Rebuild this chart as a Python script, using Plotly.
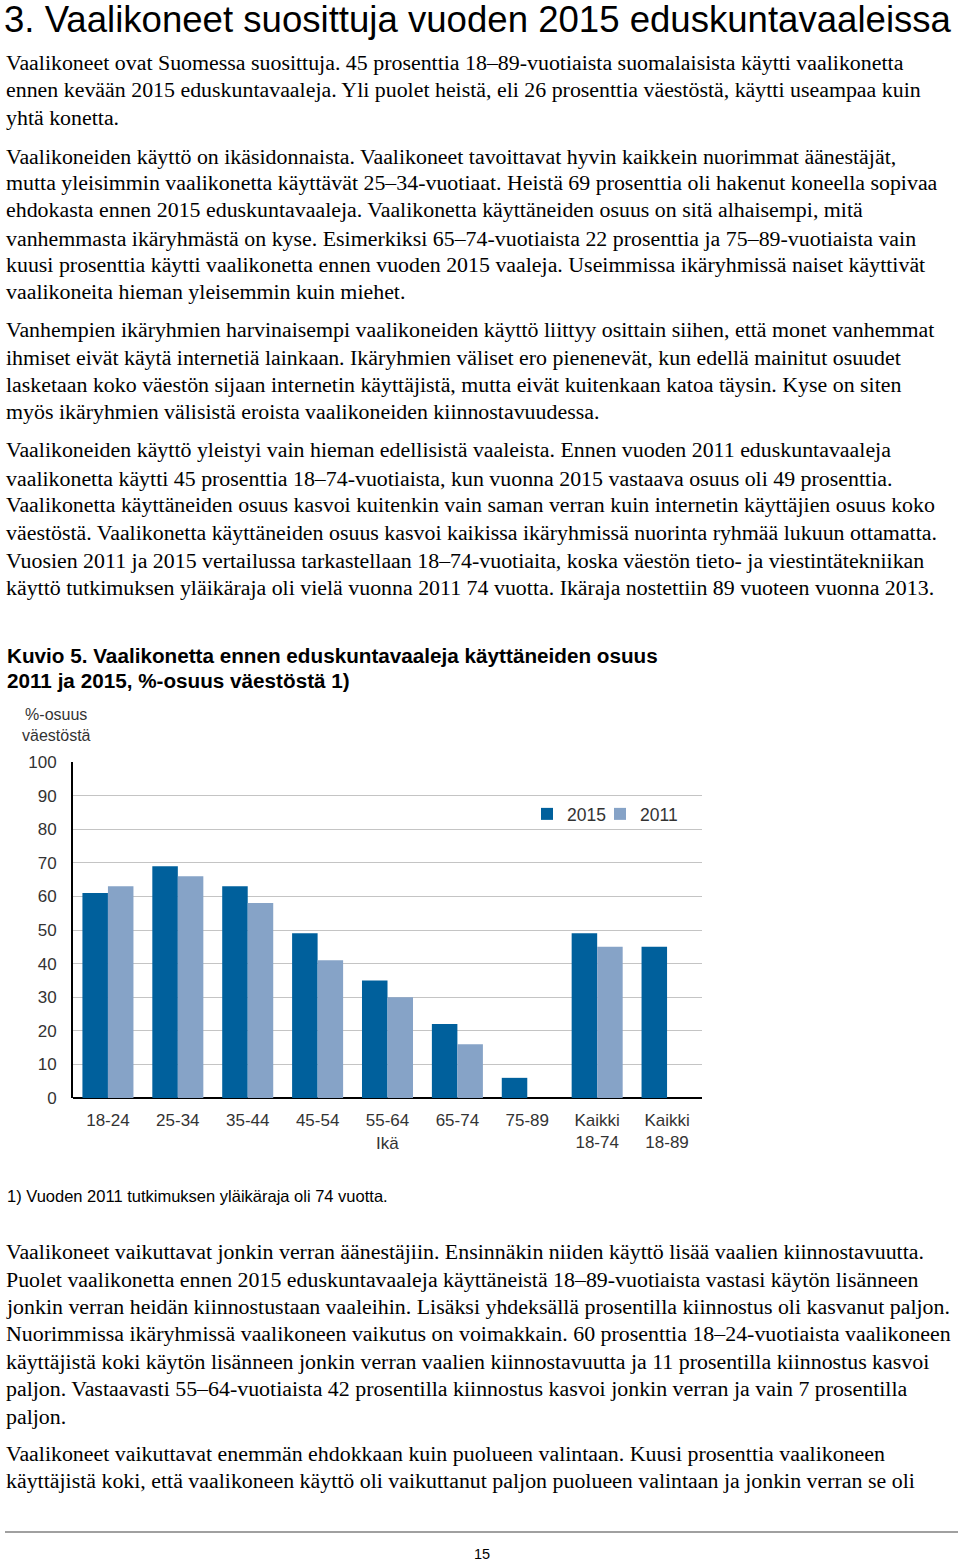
import plotly.graph_objects as go

W, H = 960, 1565

# ---------------- data ----------------
categories = ["18-24", "25-34", "35-44", "45-54", "55-64", "65-74", "75-89",
              "Kaikki<br>18-74", "Kaikki<br>18-89"]
values_2015 = [61, 69, 63, 49, 35, 22, 6, 49, 45]
values_2011 = [63, 66, 58, 41, 30, 16, None, 45, None]
y_ticks = [0, 10, 20, 30, 40, 50, 60, 70, 80, 90, 100]

title_text = "3. Vaalikoneet suosittuja vuoden 2015 eduskuntavaaleissa"

para1 = [
    "Vaalikoneet ovat Suomessa suosittuja. 45 prosenttia 18–89-vuotiaista suomalaisista käytti vaalikonetta",
    "ennen kevään 2015 eduskuntavaaleja. Yli puolet heistä, eli 26 prosenttia väestöstä, käytti useampaa kuin",
    "yhtä konetta.",
]
para2 = [
    "Vaalikoneiden käyttö on ikäsidonnaista. Vaalikoneet tavoittavat hyvin kaikkein nuorimmat äänestäjät,",
    "mutta yleisimmin vaalikonetta käyttävät 25–34-vuotiaat. Heistä 69 prosenttia oli hakenut koneella sopivaa",
    "ehdokasta ennen 2015 eduskuntavaaleja. Vaalikonetta käyttäneiden osuus on sitä alhaisempi, mitä",
    "vanhemmasta ikäryhmästä on kyse. Esimerkiksi 65–74-vuotiaista 22 prosenttia ja 75–89-vuotiaista vain",
    "kuusi prosenttia käytti vaalikonetta ennen vuoden 2015 vaaleja. Useimmissa ikäryhmissä naiset käyttivät",
    "vaalikoneita hieman yleisemmin kuin miehet.",
]
para3 = [
    "Vanhempien ikäryhmien harvinaisempi vaalikoneiden käyttö liittyy osittain siihen, että monet vanhemmat",
    "ihmiset eivät käytä internetiä lainkaan. Ikäryhmien väliset ero pienenevät, kun edellä mainitut osuudet",
    "lasketaan koko väestön sijaan internetin käyttäjistä, mutta eivät kuitenkaan katoa täysin. Kyse on siten",
    "myös ikäryhmien välisistä eroista vaalikoneiden kiinnostavuudessa.",
]
para4 = [
    "Vaalikoneiden käyttö yleistyi vain hieman edellisistä vaaleista. Ennen vuoden 2011 eduskuntavaaleja",
    "vaalikonetta käytti 45 prosenttia 18–74-vuotiaista, kun vuonna 2015 vastaava osuus oli 49 prosenttia.",
    "Vaalikonetta käyttäneiden osuus kasvoi kuitenkin vain saman verran kuin internetin käyttäjien osuus koko",
    "väestöstä. Vaalikonetta käyttäneiden osuus kasvoi kaikissa ikäryhmissä nuorinta ryhmää lukuun ottamatta.",
    "Vuosien 2011 ja 2015 vertailussa tarkastellaan 18–74-vuotiaita, koska väestön tieto- ja viestintätekniikan",
    "käyttö tutkimuksen yläikäraja oli vielä vuonna 2011 74 vuotta. Ikäraja nostettiin 89 vuoteen vuonna 2013.",
]
chart_title = [
    "Kuvio 5. Vaalikonetta ennen eduskuntavaaleja käyttäneiden osuus",
    "2011 ja 2015, %-osuus väestöstä 1)",
]
footnote = "1) Vuoden 2011 tutkimuksen yläikäraja oli 74 vuotta."
para5 = [
    "Vaalikoneet vaikuttavat jonkin verran äänestäjiin. Ensinnäkin niiden käyttö lisää vaalien kiinnostavuutta.",
    "Puolet vaalikonetta ennen 2015 eduskuntavaaleja käyttäneistä 18–89-vuotiaista vastasi käytön lisänneen",
    "jonkin verran heidän kiinnostustaan vaaleihin. Lisäksi yhdeksällä prosentilla kiinnostus oli kasvanut paljon.",
    "Nuorimmissa ikäryhmissä vaalikoneen vaikutus on voimakkain. 60 prosenttia 18–24-vuotiaista vaalikoneen",
    "käyttäjistä koki käytön lisänneen jonkin verran vaalien kiinnostavuutta ja 11 prosentilla kiinnostus kasvoi",
    "paljon. Vastaavasti 55–64-vuotiaista 42 prosentilla kiinnostus kasvoi jonkin verran ja vain 7 prosentilla",
    "paljon.",
]
para6 = [
    "Vaalikoneet vaikuttavat enemmän ehdokkaan kuin puolueen valintaan. Kuusi prosenttia vaalikoneen",
    "käyttäjistä koki, että vaalikoneen käyttö oli vaikuttanut paljon puolueen valintaan ja jonkin verran se oli",
]
page_number = "15"

# ---------------- layout helpers ----------------
def px_x(x):
    return x / W

def px_y(y):
    return 1 - y / H

SERIF = "Liberation Serif"
SANS = "Liberation Sans"
BODY_SIZE = 21.9

annotations = []

def add_line(text, y, size=BODY_SIZE, family=SERIF, x=4, color="#000000",
             anchor="left", yanchor="middle"):
    annotations.append(dict(
        text=text, x=px_x(x), y=px_y(y), xref="paper", yref="paper",
        xanchor=anchor, yanchor=yanchor, showarrow=False,
        font=dict(family=family, size=size, color=color),
    ))

add_line(title_text, 19, size=36.6, family=SANS, x=2)

for lines, ys in [
    (para1, [63, 90, 117]),
    (para2, [156, 183, 210, 238, 265, 292]),
    (para3, [330, 357, 385, 412]),
    (para4, [450, 478, 505, 532, 560, 587]),
    (para5, [1251, 1279, 1306, 1333, 1361, 1388, 1416]),
    (para6, [1453, 1480]),
]:
    for t, y in zip(lines, ys):
        add_line(t, y)

for t, y in zip(chart_title, [655, 680]):
    add_line("<b>" + t + "</b>", y, size=20.7, family=SANS, x=5)

add_line(footnote, 1196, size=16.5, family=SANS, x=5)
add_line(page_number, 1564, size=14.5, family=SANS, x=482, anchor="center", yanchor="bottom")

# y-axis caption
annotations.append(dict(
    text="%-osuus<br>väestöstä", x=px_x(56), y=px_y(725), xref="paper", yref="paper",
    xanchor="center", yanchor="middle", showarrow=False, align="center",
    font=dict(family=SANS, size=16, color="#333333"),
))
# "Ikä" under the middle category
annotations.append(dict(
    text="Ikä", x="55-64", y=px_y(1143), xref="x", yref="paper",
    xanchor="center", yanchor="middle", showarrow=False,
    font=dict(family=SANS, size=17, color="#333333"),
))

# ---------------- figure ----------------
C2015 = "#00609c"
C2011 = "#86a3c7"

fig = go.Figure()
fig.add_trace(go.Bar(name="2015", x=categories, y=values_2015, legend="legend",
                     marker=dict(color=C2015, line=dict(width=0))))
fig.add_trace(go.Bar(name="2011", x=categories, y=values_2011, legend="legend2",
                     marker=dict(color=C2011, line=dict(width=0))))

plot_top, plot_bottom = 762, 1098
plot_left, plot_right = 73, 702

legend_font = dict(family=SANS, size=17.5, color="#333333")

fig.update_layout(
    width=W, height=H,
    margin=dict(l=0, r=0, t=0, b=0),
    paper_bgcolor="white", plot_bgcolor="white",
    barmode="group", bargap=0.27, bargroupgap=0,
    showlegend=True,
    legend=dict(
        orientation="h", x=px_x(527), y=px_y(814), xanchor="left", yanchor="middle",
        font=legend_font, bgcolor="rgba(0,0,0,0)", itemwidth=30,
    ),
    legend2=dict(
        orientation="h", x=px_x(600), y=px_y(814), xanchor="left", yanchor="middle",
        font=legend_font, bgcolor="rgba(0,0,0,0)", itemwidth=30,
    ),
    xaxis=dict(
        domain=[px_x(plot_left), px_x(plot_right)],
        type="category", categoryorder="array", categoryarray=categories,
        showgrid=False, showline=False, ticks="", ticklabelstandoff=10,
        tickfont=dict(family=SANS, size=17, color="#333333"),
        automargin=False,
    ),
    yaxis=dict(
        domain=[px_y(plot_bottom), px_y(plot_top)],
        range=[0, 100], tickvals=y_ticks,
        showgrid=True, gridcolor="#c4c4c4", gridwidth=1,
        showline=True, linecolor="#000000", linewidth=2,
        zeroline=True, zerolinecolor="#000000", zerolinewidth=2,
        ticks="", ticklabelstandoff=11,
        tickfont=dict(family=SANS, size=17, color="#333333"),
        automargin=False,
    ),
    annotations=annotations,
    shapes=[dict(type="line", xref="paper", yref="paper",
                 x0=px_x(5), x1=px_x(958), y0=px_y(1532), y1=px_y(1532),
                 line=dict(color="#a0a0a0", width=2))],
)

fig.write_html(
    "out.html",
    config={"displayModeBar": False},
    post_script="document.body.style.margin='0';document.body.style.overflow='hidden';",
)
